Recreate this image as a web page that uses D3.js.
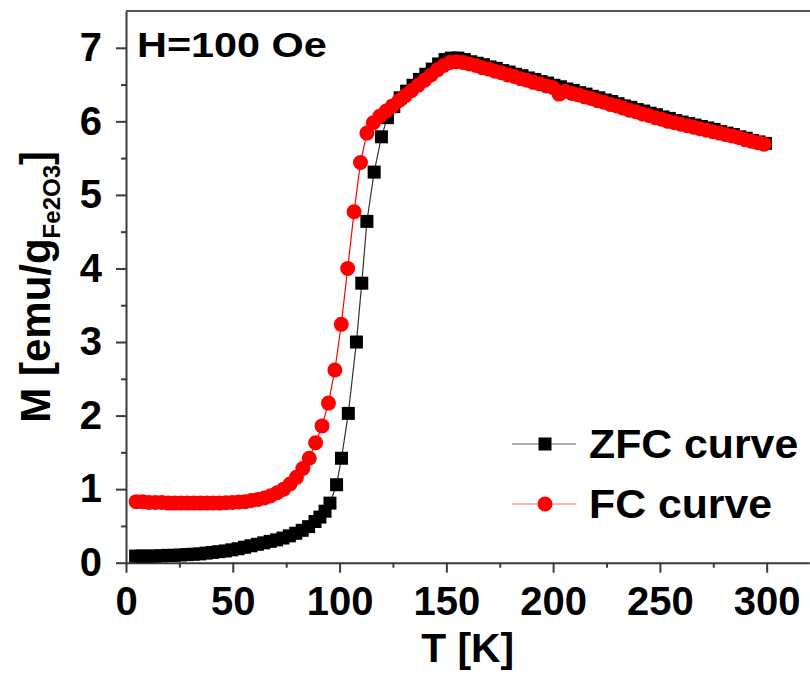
<!DOCTYPE html>
<html>
<head>
<meta charset="utf-8">
<script src="https://cdn.jsdelivr.net/npm/d3@7/dist/d3.min.js"></script>
<style>
  html, body { margin: 0; padding: 0; background: #fff; }
  svg { display: block; font-family: "Liberation Sans", Arial, sans-serif; font-weight: bold; }
</style>
</head>
<body>
<svg id="chart" width="810" height="674"></svg>
<script>
// ZFC / FC magnetisation vs temperature, H = 100 Oe
const xTicks = [0, 50, 100, 150, 200, 250, 300];
const xMinorTicks = [25, 75, 125, 175, 225, 275];
const yTicks = [0, 1, 2, 3, 4, 5, 6, 7];
const yMinorTicks = [0.5, 1.5, 2.5, 3.5, 4.5, 5.5, 6.5];

// Zero-field-cooled branch
const tempZFC = [4.5, 7.5, 10.5, 13.5, 16.5, 19.5, 22.5, 25.5, 28.5, 31.5, 34.5, 37.5, 40.5, 43.5, 46.5,
  49.5, 52.5, 55.5, 58.5, 61.5, 64.5, 67.5, 70.5, 73.5, 76.5, 79.5, 82.5, 85.5, 88.5, 90.8, 93.2, 95.5,
  98.6, 100.9, 104.1, 107.9, 110.4, 112.8, 116.2, 119.6, 122.4, 125.4, 128.4, 131.4, 134.4, 137.4, 140.4,
  143.4, 146.4, 149.4, 152.4, 155.4, 158.4, 161.4, 164.4, 167.4, 170.4, 173.4, 176.4, 179.4, 182.4, 185.4,
  188.4, 191.4, 194.4, 197.4, 200.4, 203.4, 206.4, 209.4, 212.4, 215.4, 218.4, 221.4, 224.4, 227.4, 230.4,
  233.4, 236.4, 239.4, 242.4, 245.4, 248.4, 251.4, 254.4, 257.4, 260.4, 263.4, 266.4, 269.4, 272.4, 275.4,
  278.4, 281.4, 284.4, 287.4, 290.4, 293.4, 296.4, 299.4];
const magZFC = [0.09, 0.09, 0.09, 0.09, 0.095, 0.10, 0.10, 0.105, 0.11, 0.115, 0.12, 0.13, 0.14, 0.15, 0.16,
  0.175, 0.19, 0.21, 0.23, 0.25, 0.27, 0.29, 0.31, 0.335, 0.365, 0.40, 0.44, 0.49, 0.56, 0.62, 0.70, 0.81,
  1.06, 1.42, 2.03, 3.00, 3.80, 4.64, 5.31, 5.79, 6.05, 6.20, 6.32, 6.41, 6.49, 6.57, 6.64,
  6.71, 6.78, 6.84, 6.86, 6.86, 6.84, 6.81, 6.79, 6.77, 6.74, 6.72, 6.69, 6.67, 6.64, 6.62,
  6.59, 6.57, 6.54, 6.52, 6.49, 6.47, 6.44, 6.42, 6.39, 6.37, 6.34, 6.32, 6.29, 6.27, 6.24,
  6.21, 6.19, 6.16, 6.14, 6.11, 6.09, 6.06, 6.04, 6.01, 5.99, 5.97, 5.95, 5.93, 5.91, 5.89,
  5.86, 5.84, 5.82, 5.79, 5.77, 5.74, 5.72, 5.70];

// Field-cooled branch
const tempFC = [4.8, 7.8, 10.8, 13.8, 16.8, 19.8, 22.8, 25.8, 28.8, 31.8, 34.8, 37.8, 40.8, 43.8, 46.8,
  49.8, 52.8, 55.8, 58.8, 61.8, 64.8, 67.8, 70.8, 73.8, 76.8, 79.8, 82.8, 85.8, 88.8, 91.8, 94.8, 97.8,
  100.8, 103.8, 106.8, 109.8, 112.8, 115.8, 118.8, 121.8, 124.8, 127.8, 130.8, 133.8, 136.8, 139.8, 142.8,
  145.8, 148.8, 151.8, 154.8, 157.8, 160.8, 163.8, 166.8, 169.8, 172.8, 175.8, 178.8, 181.8, 184.8, 187.8,
  190.8, 193.8, 196.8, 199.8, 202.8, 205.8, 208.8, 211.8, 214.8, 217.8, 220.8, 223.8, 226.8, 229.8, 232.8,
  235.8, 238.8, 241.8, 244.8, 247.8, 250.8, 253.8, 256.8, 259.8, 262.8, 265.8, 268.8, 271.8, 274.8, 277.8,
  280.8, 283.8, 286.8, 289.8, 292.8, 295.8, 298.8];
const magFC = [0.83, 0.83, 0.82, 0.82, 0.82, 0.81, 0.81, 0.81, 0.81, 0.81, 0.81, 0.81, 0.81, 0.81, 0.815,
  0.82, 0.825, 0.83, 0.845, 0.86, 0.88, 0.91, 0.95, 1.00, 1.07, 1.16, 1.28, 1.42, 1.63, 1.86, 2.17, 2.62,
  3.24, 4.00, 4.77, 5.44, 5.84, 5.98, 6.07, 6.14, 6.21, 6.28, 6.35, 6.42, 6.49, 6.56, 6.63,
  6.70, 6.76, 6.80, 6.81, 6.80, 6.78, 6.76, 6.73, 6.71, 6.68, 6.66, 6.63, 6.61, 6.58, 6.56,
  6.53, 6.51, 6.48, 6.46, 6.37, 6.41, 6.38, 6.36, 6.33, 6.31, 6.28, 6.26, 6.23, 6.21, 6.18,
  6.15, 6.13, 6.10, 6.08, 6.05, 6.03, 6.00, 5.98, 5.96, 5.94, 5.92, 5.90, 5.88, 5.86, 5.84,
  5.82, 5.80, 5.78, 5.75, 5.73, 5.71, 5.69];

const seriesNames = ["ZFC curve", "FC curve"];
const fieldLabel = "H=100 Oe";

const zfc = tempZFC.map((t, i) => ({ t, m: magZFC[i] }));
const fc = tempFC.map((t, i) => ({ t, m: magFC[i] }));

const svg = d3.select("#chart");
const x = d3.scaleLinear().domain([0, 320]).range([126, 809.4]);
const y = d3.scaleLinear().domain([0, 7.5]).range([562.7, 11]);

const axisColor = "#3a3a3a";

// slightly widened bold text, placed at (px, py)
function wideText(px, py, size, sx, anchor) {
  return svg.append("text")
    .attr("transform", `translate(${px},${py}) scale(${sx},1)`)
    .attr("text-anchor", anchor || "start")
    .style("font-size", size + "px");
}

// frame (top edge)
svg.append("line")
  .attr("x1", x(0)).attr("x2", 810).attr("y1", y(7.5)).attr("y2", y(7.5))
  .attr("stroke", "#555").attr("stroke-width", 2);

// minor ticks
svg.append("g").attr("transform", `translate(0,${y(0)})`)
  .call(d3.axisBottom(x).tickValues(xMinorTicks).tickSize(5).tickFormat("").tickSizeOuter(0))
  .call(g => g.select(".domain").remove())
  .call(g => g.selectAll("line").attr("stroke", axisColor).attr("stroke-width", 2));
svg.append("g").attr("transform", `translate(${x(0)},0)`)
  .call(d3.axisLeft(y).tickValues(yMinorTicks).tickSize(5).tickFormat("").tickSizeOuter(0))
  .call(g => g.select(".domain").remove())
  .call(g => g.selectAll("line").attr("stroke", axisColor).attr("stroke-width", 2));

// major axes
const xAxis = svg.append("g").attr("transform", `translate(0,${y(0)})`)
  .call(d3.axisBottom(x).tickValues(xTicks).tickSize(10).tickPadding(14).tickSizeOuter(0));
const yAxis = svg.append("g").attr("transform", `translate(${x(0)},0)`)
  .call(d3.axisLeft(y).tickValues(yTicks).tickSize(10).tickPadding(14).tickSizeOuter(0));

[xAxis, yAxis].forEach(a => {
  a.select(".domain").attr("stroke", axisColor).attr("stroke-width", 2);
  a.selectAll(".tick line").attr("stroke", axisColor).attr("stroke-width", 2);
  a.selectAll(".tick text")
    .attr("fill", "#000")
    .style("font-size", "40px")
    .style("font-family", "'Liberation Sans', Arial, sans-serif")
    .style("font-weight", "bold");
});

// axis titles
wideText((x(0) + 809.4) / 2, 662, 40, 1.02, "middle").text("T [K]");

const yTitle = svg.append("text")
  .attr("transform", `translate(50,${(y(0) + y(7.5)) / 2}) rotate(-90)`)
  .attr("text-anchor", "middle")
  .style("font-size", "42px");
yTitle.append("tspan").text("M [emu/g");
yTitle.append("tspan").attr("dy", 10).style("font-size", "24px").text("Fe2O3");
yTitle.append("tspan").attr("dy", -10).text("]");

// field annotation
wideText(137, 57, 36, 1.15).text(fieldLabel);

// data
const line = d3.line().x(d => x(d.t)).y(d => y(d.m));

svg.append("path").datum(zfc)
  .attr("d", line).attr("fill", "none").attr("stroke", "#333").attr("stroke-width", 1.2);
svg.append("g").selectAll("rect").data(zfc).join("rect")
  .attr("x", d => x(d.t) - 6.5).attr("y", d => y(d.m) - 6.5)
  .attr("width", 13).attr("height", 13).attr("fill", "#000");

svg.append("path").datum(fc)
  .attr("d", line).attr("fill", "none").attr("stroke", "#ff0000").attr("stroke-width", 1.2);
svg.append("g").selectAll("circle").data(fc).join("circle")
  .attr("cx", d => x(d.t)).attr("cy", d => y(d.m)).attr("r", 7.5).attr("fill", "#ff0000");

// legend
const legend = svg.append("g");
const rows = [
  { name: seriesNames[0], cy: 444, lineColor: "#999", kind: "square" },
  { name: seriesNames[1], cy: 504, lineColor: "#f4a0a0", kind: "circle" }
];
rows.forEach(r => {
  legend.append("line").attr("x1", 512).attr("x2", 576).attr("y1", r.cy).attr("y2", r.cy)
    .attr("stroke", r.lineColor).attr("stroke-width", 1.5);
  if (r.kind === "square") {
    legend.append("rect").attr("x", 545 - 6.5).attr("y", r.cy - 6.5).attr("width", 13).attr("height", 13).attr("fill", "#000");
  } else {
    legend.append("circle").attr("cx", 545).attr("cy", r.cy).attr("r", 7.5).attr("fill", "#ff0000");
  }
  wideText(589, r.cy + 14, 40, 1.07).text(r.name);
});
</script>
</body>
</html>
